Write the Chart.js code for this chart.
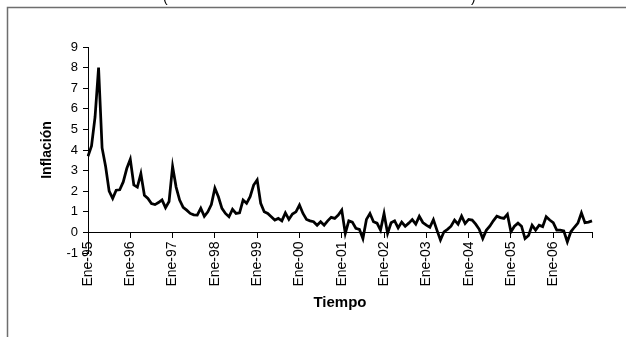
<!DOCTYPE html>
<html>
<head>
<meta charset="utf-8">
<script src="https://cdn.jsdelivr.net/npm/chart.js@4.4.0/dist/chart.umd.min.js"></script>
<style>
html, body { margin: 0; padding: 0; background: #fff; }
</style>
</head>
<body>
<canvas id="lineChart" width="626" height="337"></canvas>
<script>
// inflacion mensual (%), ene-95 a dic-06
const meses = ['Ene', 'Feb', 'Mar', 'Abr', 'May', 'Jun', 'Jul', 'Ago', 'Sep', 'Oct', 'Nov', 'Dic'];
const anios = ['95', '96', '97', '98', '99', '00', '01', '02', '03', '04', '05', '06'];

const inf1995 = [3.7, 4.2, 5.6, 8.0, 4.1, 3.2, 2.0, 1.65, 2.05, 2.07, 2.45, 3.1];
const inf1996 = [3.55, 2.3, 2.2, 2.85, 1.8, 1.65, 1.4, 1.35, 1.45, 1.58, 1.2, 1.5];
const inf1997 = [3.2, 2.2, 1.57, 1.22, 1.08, 0.92, 0.85, 0.84, 1.17, 0.78, 1.0, 1.35];
const inf1998 = [2.15, 1.73, 1.17, 0.92, 0.76, 1.12, 0.92, 0.95, 1.57, 1.41, 1.73, 2.3];
const inf1999 = [2.55, 1.41, 1.0, 0.92, 0.76, 0.6, 0.68, 0.56, 0.95, 0.63, 0.89, 1.0];
const inf2000 = [1.33, 0.92, 0.63, 0.56, 0.52, 0.35, 0.52, 0.35, 0.56, 0.73, 0.68, 0.84];
const inf2001 = [1.08, -0.05, 0.56, 0.5, 0.2, 0.15, -0.3, 0.63, 0.92, 0.52, 0.45, 0.11];
const inf2002 = [0.92, -0.05, 0.47, 0.56, 0.22, 0.5, 0.3, 0.45, 0.62, 0.4, 0.78, 0.48];
const inf2003 = [0.35, 0.25, 0.62, 0.11, -0.37, 0.03, 0.15, 0.3, 0.6, 0.4, 0.79, 0.43];
const inf2004 = [0.63, 0.6, 0.4, 0.15, -0.3, 0.1, 0.3, 0.56, 0.79, 0.72, 0.68, 0.88];
const inf2005 = [0.03, 0.3, 0.45, 0.3, -0.3, -0.15, 0.35, 0.11, 0.35, 0.28, 0.76, 0.6];
const inf2006 = [0.47, 0.11, 0.11, 0.07, -0.46, 0.03, 0.25, 0.45, 0.95, 0.47, 0.5, 0.56];

const inflacion = [].concat(inf1995, inf1996, inf1997, inf1998, inf1999, inf2000,
                            inf2001, inf2002, inf2003, inf2004, inf2005, inf2006);

let categorias = [];
anios.forEach(a => meses.forEach(m => categorias.push(m + '-' + a)));

const fuente = 'Arial, "Liberation Sans", sans-serif';

// marco del grafico y final del titulo (cortado arriba)
const marco = {
    id: 'marco',
    beforeDraw(chart) {
        const c = chart.ctx;
        c.save();
        c.strokeStyle = '#6e6e6e';
        c.lineWidth = 1.5;
        c.beginPath();
        c.moveTo(7.5, 337);
        c.lineTo(7.5, 7.5);
        c.lineTo(626, 7.5);
        c.stroke();
        c.fillStyle = '#000';
        c.font = '14px ' + fuente;
        c.fillText('(', 163, 2);
        c.fillText(')', 471, 2);
        c.restore();
    }
};

var ctx = document.getElementById("lineChart").getContext("2d");
new Chart(ctx, {
    type: 'line',
    data: {
        labels: categorias,
        datasets: [{
            data: inflacion,
            borderColor: '#000',
            borderWidth: 2.75,
            pointRadius: 0,
            tension: 0,
            fill: false
        }]
    },
    options: {
        responsive: false,
        animation: false,
        layout: { padding: { top: 47, right: 34, bottom: 0, left: 0 } },
        plugins: {
            legend: { display: false },
            tooltip: { enabled: false },
            title: {
                display: true,
                text: 'Tiempo',
                position: 'bottom',
                fullSize: false,
                color: '#000',
                font: { family: fuente, size: 15, weight: 'bold' },
                padding: { top: 41, bottom: 25 }
            }
        },
        scales: {
            x: {
                type: 'category',
                position: { y: 0 },
                offset: false,
                grid: {
                    drawOnChartArea: false,
                    tickLength: 5,
                    color: c => (c.index % 12 === 0 || c.index === categorias.length - 1) ? '#000' : 'rgba(0,0,0,0)'
                },
                border: { display: true, color: '#000', width: 1 },
                ticks: {
                    autoSkip: false,
                    minRotation: 90,
                    maxRotation: 90,
                    padding: 4,
                    color: '#000',
                    font: { family: fuente, size: 14 },
                    callback: (v, i) => i % 12 === 0 ? categorias[i] : ''
                }
            },
            y: {
                min: -1,
                max: 9,
                afterFit: s => { s.width = 88; },
                grid: { drawOnChartArea: false, tickLength: 5, color: '#000' },
                border: { display: true, color: '#000', width: 1 },
                ticks: {
                    stepSize: 1,
                    padding: 5,
                    color: '#000',
                    font: { family: fuente, size: 13 }
                },
                title: {
                    display: true,
                    text: 'Inflación',
                    color: '#000',
                    font: { family: fuente, size: 14, weight: 'bold' },
                    padding: { top: 39, bottom: 0 }
                }
            }
        }
    },
    plugins: [marco]
});
</script>
</body>
</html>
